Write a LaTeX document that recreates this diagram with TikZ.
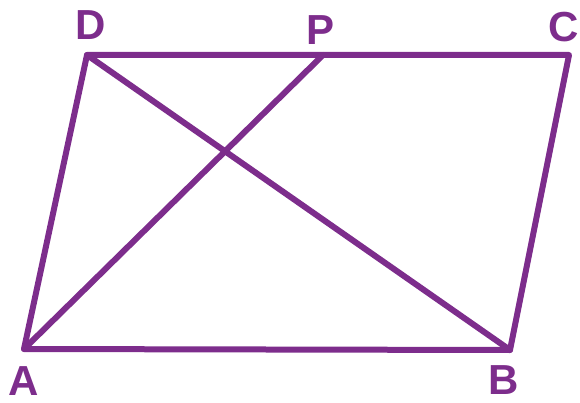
\documentclass[tikz,border=0pt]{standalone}
\usepackage{fontspec}
\setmainfont{Liberation Sans}
\definecolor{geo}{RGB}{125,45,140}
\begin{document}
\begin{tikzpicture}[x=1pt,y=-1pt,
  edge/.style={draw=geo,line width=6pt,line join=round,line cap=round},
  lbl/.style={text=geo,font=\fontsize{42}{42}\selectfont\bfseries,inner sep=0pt}]
\useasboundingbox (0,0) rectangle (580,403);
\coordinate (A) at (24,349);
\coordinate (B) at (510,350);
\coordinate (C) at (569,55);
\coordinate (D) at (87,55);
\coordinate (P) at (323,55);
\path[edge] (A) -- (B) -- (C) -- (D) -- cycle;
\path[edge] (D) -- (B);
\path[edge] (A) -- (P);
\node[lbl] (lD) at (91,25) {D};
\node[lbl] (lP) at (321,30) {P};
\node[lbl] (lC) at (564,27) {C};
\node[lbl] (lA) at (24,381) {A};
\node[lbl] (lB) at (504,380) {B};
\end{tikzpicture}
\end{document}
